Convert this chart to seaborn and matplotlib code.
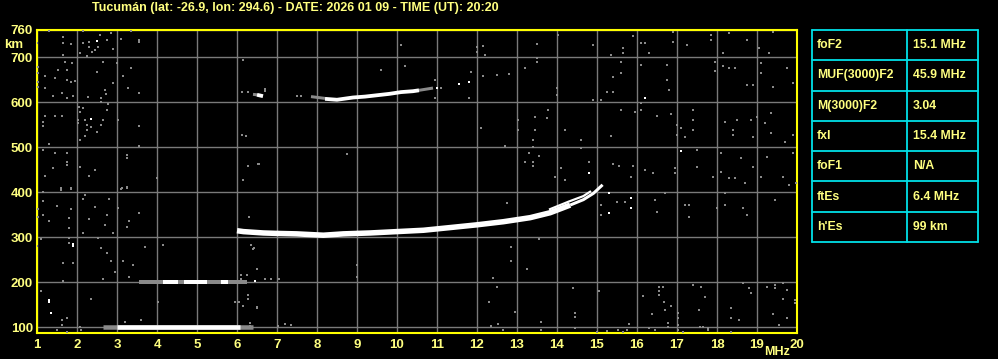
import matplotlib
matplotlib.use("Agg")
import matplotlib.pyplot as plt
from matplotlib import font_manager
import numpy as np
import pandas as pd
import seaborn as sns

# ---------------- data ----------------
TITLE = "Tucumán (lat: -26.9, lon: 294.6) - DATE: 2026 01 09 - TIME (UT): 20:20"
freq_ticks = list(range(1, 21))
height_ticks = [100, 200, 300, 400, 500, 600, 700, 760]

table_params = ["foF2", "MUF(3000)F2", "M(3000)F2", "fxI", "foF1", "ftEs", "h'Es"]
table_values = ["15.1 MHz", "45.9 MHz", "3.04", "15.4 MHz", "N/A", "6.4 MHz", "99 km"]

# sporadic E, first hop (~100 km)
es_freq = [3.0, 6.07]
es_height = [101, 101]
es_weak_freq = [2.65, 6.4]
es_weak_height = [101, 101]

# sporadic E, second hop (~200 km): strong pieces
es2_seg = [0, 0, 1, 1, 2, 2]
es2_freq = [4.15, 4.53, 4.68, 5.25, 5.6, 5.78]
es2_height = [201, 201, 201, 201, 201, 201]
es2_weak_freq = [3.55, 6.25]
es2_weak_height = [201, 201]

# F2 trace (ordinary)
f2_freq = [6.0, 6.16, 6.66, 7.0, 7.49, 8.16, 8.66, 9.33, 9.99, 10.66, 11.33,
           11.99, 12.66, 13.33, 13.83, 14.33]
f2_height = [314, 312, 309, 308, 307, 304, 307, 309, 312, 315, 321,
             327, 334, 343, 354, 371]
f2_top_freq = [14.33, 14.66, 14.91, 15.14]
f2_top_height = [371, 383, 397, 416]
# F2 second strand near critical frequency
f2x_freq = [13.8, 14.3, 14.66, 14.85]
f2x_height = [361, 379, 391, 402]

# second-hop F2 (~610-630 km)
f2b_seg = [0, 0, 1, 1, 1, 1, 1, 1, 1, 1, 1]
f2b_freq = [6.5, 6.65, 8.2, 8.5, 8.9, 9.2, 9.5, 9.8, 10.1, 10.4, 10.55]
f2b_height = [616, 613, 607, 605, 610, 612, 615, 618, 622, 624, 626]
f2b_weak_seg = [0, 0, 1, 1, 2, 2]
f2b_weak_freq = [7.85, 8.2, 10.55, 10.9, 6.4, 6.5]
f2b_weak_height = [612, 608, 626, 631, 617, 616]

# bright isolated echoes
spot_freq = [2.5, 2.34, 16.2, 17.1, 14.8, 15.3, 15.3, 15.85, 15.85, 1.31, 1.31,
             1.34, 1.89, 1.89, 6.45, 11.0, 11.55, 11.8]
spot_height = [736, 562, 609, 491, 442, 398, 353, 387, 364, 160, 155,
               132, 285, 280, 202, 632, 640, 645]

# background noise echoes
noise_freq = [
    1.3, 1.64, 1.64, 1.84, 1.64, 1.0, 2.14, 2.14, 2.3, 2.3, 2.45, 2.58, 2.84, 2.74,
    2.9, 2.53, 2.37, 2.08, 2.24, 3.1, 3.34, 3.56, 3.56,
    1.02, 1.02, 1.02, 1.02, 1.2, 1.2, 1.45, 1.53, 1.74, 1.74, 1.84, 1.95, 1.62, 1.4,
    1.74, 1.89, 1.7, 1.87, 1.62, 1.45, 1.2, 1.14, 1.14, 1.31, 1.14, 1.45, 1.74, 1.74,
    1.74, 1.39, 1.2, 1.6, 1.84,
    2.04, 2.14, 2.08, 2.03, 2.03, 2.2, 2.26, 2.26, 2.34, 2.6, 2.64, 2.5, 2.2, 2.08,
    2.28, 2.49, 2.6, 2.6, 2.73, 2.9, 2.99, 2.66, 2.7, 2.76, 2.78, 3.03, 3.14, 3.28,
    3.34, 3.55, 3.55, 3.55, 3.24, 3.24, 2.08, 2.31, 2.45, 3.99, 3.24, 3.12,
    6.15, 6.12, 6.28, 6.12, 6.22, 6.28, 6.53, 6.14, 6.7, 6.7,
    1.14, 1.59, 1.84, 1.14, 1.49, 1.03, 1.84, 1.03, 1.14, 1.3, 1.8, 1.8, 2.16, 2.2,
    2.3, 2.45, 2.14, 2.53, 2.7, 2.76, 2.8, 2.89, 3.03, 3.09, 3.24, 3.24, 3.3, 3.55,
    1.8, 1.09, 1.0, 1.8, 2.59, 2.74, 2.85, 3.14, 3.39, 2.95, 3.3, 2.64, 1.64, 1.89,
    1.64, 3.7, 4.14, 6.3, 6.34, 6.43, 6.49, 6.24, 6.09, 6.09,
    1.09, 1.62, 1.62, 1.74, 1.51, 1.74, 2.08, 2.09, 2.34, 4.03, 3.59, 3.2, 6.28,
    6.28, 5.95, 6.06, 6.14, 6.49, 6.33, 6.33, 7.03, 7.2, 7.34,
    6.41, 6.49, 6.7, 6.85, 7.05, 6.49, 8.99, 8.99, 12.39, 12.49, 12.84, 12.84,
    13.24, 13.54, 12.3, 12.34, 12.53,
    10.1, 11.99, 11.99, 12.14, 12.2, 13.49, 13.49, 13.49, 13.2, 12.49, 12.14, 12.8,
    11.85, 10.2, 9.6, 10.95, 11.1, 10.95, 11.8, 7.49, 7.59, 7.87, 12.09, 13.03,
    13.03, 13.45, 13.45, 13.74, 13.78, 13.39, 13.39, 13.29, 13.54, 13.2, 13.39,
    13.39, 12.7, 8.74, 6.55, 12.74,
    14.03, 14.9, 15.35, 15.65, 15.65, 15.9, 16.1, 16.2, 16.3, 16.9, 16.9, 17.25,
    17.85, 17.85, 18.15, 18.3, 18.75, 19.05, 19.3, 19.4, 15.6, 15.6, 15.4, 15.4,
    16.75, 16.75, 16.8, 17.95, 17.95, 18.15, 18.3, 18.45, 18.75, 18.9, 19.1, 19.1,
    19.4, 19.75, 19.9, 16.1, 16.1, 16.1, 15.95, 15.25, 15.1, 14.9, 14.0, 14.0,
    13.75, 14.2, 14.6, 14.6, 15.35, 15.6, 16.5, 16.85, 17.0, 17.0, 17.1, 17.2, 17.4,
    17.4, 17.4, 18.2, 18.4, 18.4, 18.5, 18.85, 18.9, 19.0, 19.2, 19.35, 19.35,
    19.7, 19.9, 17.5, 18.1, 18.6, 18.9, 19.25, 19.9, 14.8, 14.1, 13.95, 14.2, 15.4,
    15.55, 15.9, 15.85, 16.2, 16.4, 16.95, 16.95, 17.5, 17.9, 18.1, 18.3, 18.45,
    18.7, 19.1, 19.65, 19.8, 15.1, 15.1, 15.5, 15.7, 16.45, 16.7, 16.5, 17.3, 17.3,
    17.2, 18.0, 18.2, 18.2, 18.65, 18.75, 19.45, 19.97,
    12.95, 13.59, 13.59, 12.66, 14.39, 14.45, 14.45, 14.45, 15.04, 14.99, 15.24,
    15.53, 15.66, 15.74, 15.81, 16.16, 16.37, 16.45, 16.3, 16.56, 16.56, 16.64,
    16.56, 16.68, 16.84, 16.7, 16.78, 16.78, 17.03, 17.03, 17.03, 17.03, 17.14,
    17.39, 17.59, 17.7, 17.56, 17.58, 17.66, 17.78, 17.78, 18.34, 18.34, 18.55,
    18.34, 18.64, 18.81, 18.84, 19.24, 19.45, 19.45, 19.64, 19.76, 19.41, 19.54,
    19.74, 19.95, 19.95, 19.64,
]
noise_height = [
    758, 744, 731, 729, 704, 731, 758, 731, 733, 722, 716, 749, 753, 738,
    718, 722, 711, 710, 702, 740, 758, 738, 733,
    678, 664, 645, 634, 658, 631, 653, 671, 671, 649, 645, 647, 619, 613,
    610, 613, 690, 686, 569, 569, 569, 556, 547, 507, 493, 487, 486, 467,
    460, 454, 436, 409, 409,
    590, 587, 578, 560, 553, 561, 549, 538, 544, 549, 561, 534, 524, 516,
    612, 667, 609, 601, 618, 642, 686, 690, 627, 582, 596, 560, 658, 631,
    676, 619, 547, 502, 482, 476, 456, 436, 449, 431, 412, 409,
    693, 623, 623, 527, 524, 458, 462, 427, 630, 625,
    399, 404, 407, 380, 370, 362, 362, 345, 349, 336, 343, 321, 384, 393,
    340, 367, 308, 298, 327, 349, 384, 308, 365, 407, 410, 323, 336, 354,
    297, 296, 281, 286, 275, 264, 247, 247, 238, 223, 212, 207, 242, 242,
    202, 278, 282, 345, 282, 275, 230, 216, 216, 206,
    181, 116, 104, 119, 94, 89, 101, 93, 162, 156, 116, 112, 171,
    162, 156, 156, 147, 144, 108, 102, 102, 107, 104,
    273, 229, 207, 207, 207, 143, 238, 212, 210, 190, 278, 247,
    229, 296, 156, 103, 107,
    727, 723, 712, 725, 704, 730, 697, 690, 676, 660, 658, 662,
    667, 681, 671, 649, 632, 610, 610, 614, 614, 612, 543, 560,
    538, 567, 538, 564, 582, 516, 501, 487, 480, 467, 467,
    458, 503, 485, 463, 376,
    749, 727, 704, 720, 710, 747, 731, 731, 709, 755, 733, 727,
    750, 738, 709, 753, 738, 720, 709, 756, 690, 665, 655, 622,
    682, 649, 627, 690, 670, 680, 675, 675, 638, 638, 687, 664,
    633, 676, 642, 682, 598, 582, 578, 622, 604, 604, 631, 615,
    564, 538, 515, 498, 524, 582, 569, 573, 549, 527, 542, 522, 582,
    560, 538, 556, 538, 527, 560, 560, 522, 567, 553, 576, 531,
    511, 527, 493, 487, 476, 456, 478, 487, 467, 453, 433, 427, 462,
    458, 458, 433, 449, 442, 453, 442, 456, 433, 444, 431, 431,
    420, 433, 433, 416, 371, 349, 378, 378, 382, 398, 356, 371, 344,
    371, 364, 398, 371, 364, 349, 382, 420,
    134, 112, 93, 93, 186, 131, 122, 98, 181, 89, 92,
    93, 89, 93, 107, 169, 130, 93, 98, 190, 179, 190,
    171, 156, 147, 138, 109, 101, 131, 120, 104, 93, 89,
    193, 190, 167, 138, 101, 101, 93, 97, 142, 119, 116,
    89, 197, 186, 176, 190, 193, 186, 197, 182, 130, 104,
    119, 153, 160, 162,
]

# ---------------- style ----------------
sns.set_theme(style="dark")
avail = {f.name for f in font_manager.fontManager.ttflist}
base_font = "Liberation Sans" if "Liberation Sans" in avail else "DejaVu Sans"
narrow_font = "Liberation Sans Narrow" if "Liberation Sans Narrow" in avail else base_font
plt.rcParams["font.family"] = [base_font, "DejaVu Sans"]

TXT = "#ffff80"
GRID = "#7a7a7a"
NOISE = "#8a8a8a"
BG = "black"

W, H = 998, 359
fig = plt.figure(figsize=(W / 100, H / 100), dpi=100, facecolor=BG)
ax = fig.add_axes([37 / W, 26 / H, 760 / W, 303 / H], facecolor=BG)

# noise and echoes
sns.scatterplot(x=noise_freq, y=noise_height, ax=ax, marker="s", s=4,
                color=NOISE, linewidth=0, zorder=3)

def seg_line(fr, hg, color, lw, seg=None):
    df = pd.DataFrame({"f": fr, "h": hg, "u": seg if seg is not None else [0] * len(fr)})
    sns.lineplot(data=df, x="f", y="h", units="u", estimator=None, sort=False,
                 ax=ax, color=color, linewidth=lw, solid_capstyle="butt",
                 legend=False, zorder=4)

px = 0.72  # points per pixel
seg_line(es_weak_freq, es_weak_height, NOISE, 4.5 * px)
seg_line(es_freq, es_height, "white", 4.5 * px)
seg_line(es2_weak_freq, es2_weak_height, NOISE, 4 * px)
seg_line(es2_freq, es2_height, "white", 4 * px, es2_seg)
seg_line(f2_freq, f2_height, "white", 5.5 * px)
seg_line(f2_top_freq, f2_top_height, "white", 3 * px)
seg_line(f2x_freq, f2x_height, "white", 2.2 * px)
seg_line(f2b_weak_freq, f2b_weak_height, NOISE, 3 * px, f2b_weak_seg)
seg_line(f2b_freq, f2b_height, "white", 3.8 * px, f2b_seg)
sns.scatterplot(x=spot_freq, y=spot_height, ax=ax, marker="s", s=4.5,
                color="white", linewidth=0, zorder=5)

ax.set_xlim(1, 20)
ax.set_ylim(86.7, 760)
ax.set_xticks(freq_ticks)
ax.set_xticklabels([str(v) for v in freq_ticks])
ax.set_yticks(height_ticks)
ax.set_yticklabels([str(v) for v in height_ticks])
ax.set_xlabel("")
ax.set_ylabel("")
ax.grid(True, color=GRID, linewidth=1.0)
ax.set_axisbelow(True)
ax.tick_params(length=0, colors=TXT, labelsize=9.5)
ax.tick_params(axis="x", pad=4)
ax.tick_params(axis="y", pad=3)
for lab in ax.get_xticklabels() + ax.get_yticklabels():
    lab.set_fontweight("bold")
    lab.set_color(TXT)
for sp in ax.spines.values():
    sp.set_visible(True)
    sp.set_color("#ffff00")
    sp.set_linewidth(1.5)

fig.text(14 / W, 1 - 45 / H, "km", color=TXT, fontsize=9.5, fontweight="bold",
         ha="center", va="center")
fig.text(777 / W, 1 - 352 / H, "MHz", color=TXT, fontsize=9, fontweight="bold",
         ha="center", va="center")
fig.text(295 / W, 1 - 7.5 / H, TITLE, color=TXT, fontsize=9, fontweight="bold",
         ha="center", va="center", family=[narrow_font, "DejaVu Sans"])

# parameter table
tx0, tx1, ty0, ty1 = 812, 978, 30, 242
tax = fig.add_axes([tx0 / W, (H - ty1) / H, (tx1 - tx0) / W, (ty1 - ty0) / H],
                   facecolor=BG)
tax.set_xlim(0, tx1 - tx0)
tax.set_ylim(len(table_params), 0)
tax.axis("off")
CY = "#00e0e8"
for r in range(len(table_params) + 1):
    tax.plot([0, tx1 - tx0], [r, r], color=CY, lw=1.3, clip_on=False)
for c in [0, 95, tx1 - tx0]:
    tax.plot([c, c], [0, len(table_params)], color=CY, lw=1.3, clip_on=False)
for r, (p, v) in enumerate(zip(table_params, table_values)):
    tax.text(5, r + 0.5, p, color=TXT, fontsize=8.8, fontweight="bold",
             ha="left", va="center")
    tax.text(101, r + 0.5, v, color=TXT, fontsize=8.8, fontweight="bold",
             ha="left", va="center")

fig.savefig("out.png", dpi=100, facecolor=BG)
